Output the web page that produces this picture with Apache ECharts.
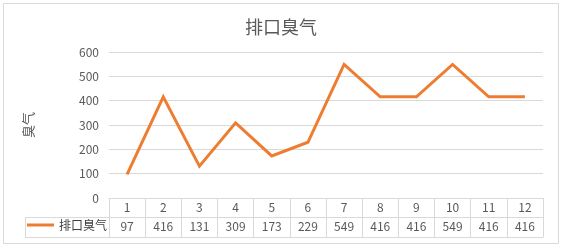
<!DOCTYPE html>
<html>
<head>
<meta charset="utf-8">
<script src="https://cdn.jsdelivr.net/npm/echarts@6/dist/echarts.min.js"></script>
<style>
  html, body { margin: 0; padding: 0; background: #ffffff; }
  #chart { width: 562px; height: 248px; }
</style>
</head>
<body>
<div id="chart"></div>
<script>
// Chart texts and values
const chartTitle = '排口臭气';
const seriesName = '排口臭气';
const yAxisName = '臭气';
const categories = ['1', '2', '3', '4', '5', '6', '7', '8', '9', '10', '11', '12'];
const values = [97, 416, 131, 309, 173, 229, 549, 416, 416, 549, 416, 416];
const yMin = 0;
const yMax = 600;
const yStep = 100;

// Layout of the plot area and the data table under it
const W = 562, H = 248;
const plotLeft = 109, plotRight = 543, plotTop = 52, plotBottom = 198;
const rowSep = 19;      // first table row height
const rowEnd = 39;      // total table height
const legendCellLeft = 25;

const gridColor = '#d9d9d9';
const textColor = '#595959';
const lineColor = '#ED7D31';
const font = '"Noto Sans CJK SC", "Noto Sans", sans-serif';

const chart = echarts.init(document.getElementById('chart'), null, { renderer: 'canvas' });

const tableAxis = (offset, labelOpts) => ({
  type: 'category',
  data: categories,
  position: 'bottom',
  offset: offset,
  boundaryGap: true,
  axisLine: { show: true, lineStyle: { color: gridColor, width: 1 } },
  axisTick: { show: false },
  axisLabel: labelOpts
});

chart.setOption({
  animation: false,
  backgroundColor: '#ffffff',
  textStyle: { fontFamily: font },
  title: {
    text: chartTitle,
    left: 'center',
    top: 13,
    textStyle: { fontSize: 18, fontWeight: 'normal', color: textColor, fontFamily: font }
  },
  legend: {
    data: [{ name: seriesName, icon: 'rect' }],
    left: 27,
    top: 219,
    padding: 0,
    itemWidth: 27,
    itemHeight: 3,
    textStyle: { fontSize: 12, color: '#404040', fontFamily: font }
  },
  grid: {
    left: plotLeft,
    right: W - plotRight,
    top: plotTop,
    bottom: H - plotBottom,
    containLabel: false
  },
  xAxis: [
    {
      type: 'category',
      data: categories,
      position: 'bottom',
      boundaryGap: true,
      axisLine: { show: true, lineStyle: { color: gridColor, width: 1 } },
      axisTick: { show: true, interval: 0, length: rowEnd, inside: false, lineStyle: { color: gridColor, width: 1 } },
      axisLabel: { interval: 0, margin: 3, fontSize: 12, color: textColor, fontFamily: font }
    },
    tableAxis(rowSep, {
      interval: 0, margin: 3, fontSize: 12, color: textColor, fontFamily: font,
      formatter: (v, i) => String(values[i])
    }),
    tableAxis(rowEnd, { show: false })
  ],
  yAxis: {
    type: 'value',
    min: yMin,
    max: yMax,
    interval: yStep,
    name: yAxisName,
    nameLocation: 'middle',
    nameGap: 74,
    nameRotate: 90,
    nameTextStyle: { fontSize: 13, color: textColor, fontFamily: font },
    axisLine: { show: false },
    axisTick: { show: false },
    axisLabel: { margin: 10, fontSize: 12, color: textColor, fontFamily: font },
    splitLine: { show: true, lineStyle: { color: gridColor, width: 1 } }
  },
  series: [{
    name: seriesName,
    type: 'line',
    xAxisIndex: 0,
    data: values,
    symbol: 'none',
    showSymbol: false,
    lineStyle: { color: lineColor, width: 3, join: 'miter' },
    itemStyle: { color: lineColor }
  }],
  graphic: [
    // outer chart frame
    { type: 'rect', shape: { x: 3.5, y: 3.5, width: 555, height: 240 }, style: { fill: 'none', stroke: gridColor, lineWidth: 1 }, silent: true },
    // legend cell of the data table
    { type: 'line', shape: { x1: legendCellLeft, y1: plotBottom + rowSep + 0.5, x2: plotLeft, y2: plotBottom + rowSep + 0.5 }, style: { stroke: gridColor, lineWidth: 1 }, silent: true },
    { type: 'line', shape: { x1: legendCellLeft, y1: plotBottom + rowEnd + 0.5, x2: plotLeft, y2: plotBottom + rowEnd + 0.5 }, style: { stroke: gridColor, lineWidth: 1 }, silent: true },
    { type: 'line', shape: { x1: legendCellLeft + 0.5, y1: plotBottom + rowSep, x2: legendCellLeft + 0.5, y2: plotBottom + rowEnd + 1 }, style: { stroke: gridColor, lineWidth: 1 }, silent: true }
  ]
});
</script>
</body>
</html>
